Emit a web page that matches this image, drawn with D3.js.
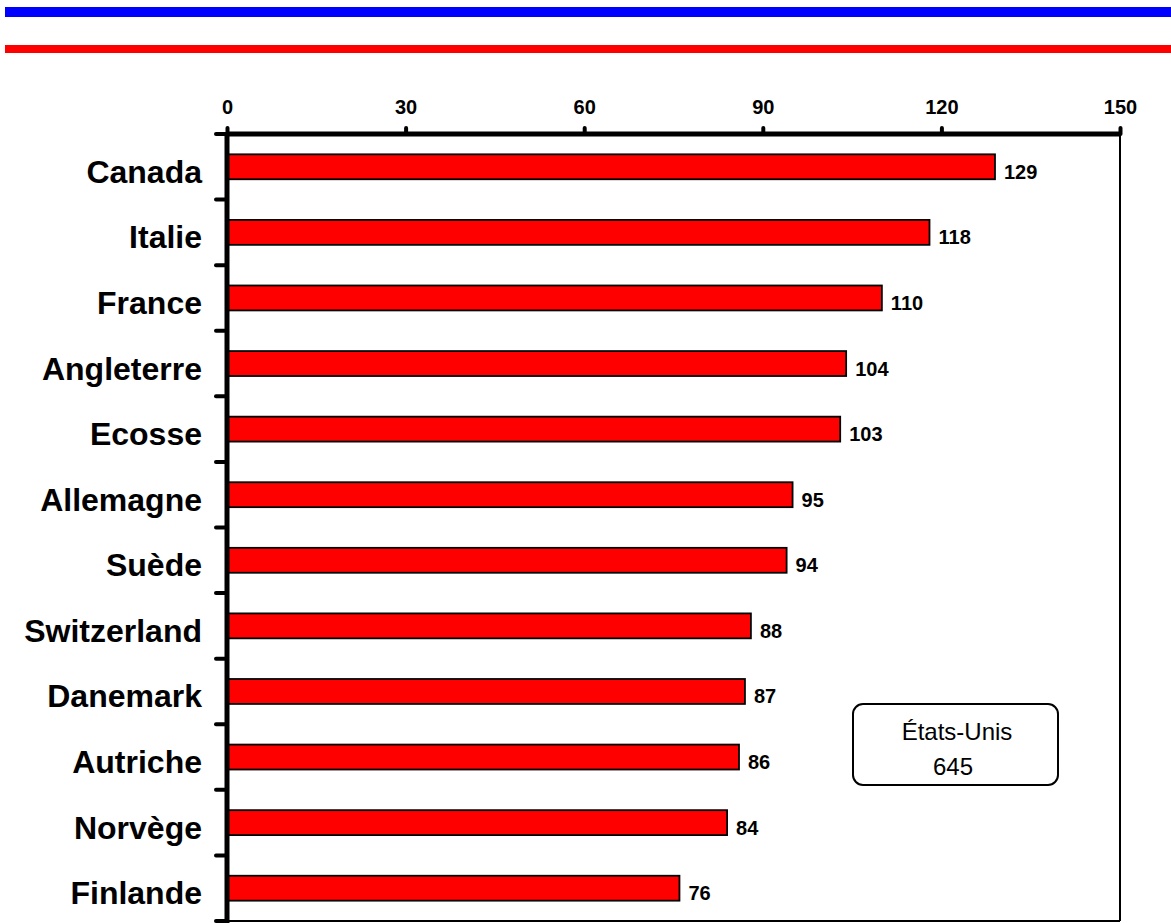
<!DOCTYPE html>
<html><head><meta charset="utf-8">
<script src="https://cdn.jsdelivr.net/npm/d3@7"></script>
<style>body{margin:0;background:#fff;} svg{display:block;}</style>
</head><body>
<script>
const categories = ["Canada","Italie","France","Angleterre","Ecosse","Allemagne","Suède","Switzerland","Danemark","Autriche","Norvège","Finlande"];
const values = [129,118,110,104,103,95,94,88,87,86,84,76];
const tickValues = [0,30,60,90,120,150];
const noteLines = ["États-Unis","645"];

const W=1171,H=923;
const svg=d3.select("body").append("svg").attr("width",W).attr("height",H);
const font="Liberation Sans, Arial, sans-serif";

svg.append("rect").attr("x",5).attr("y",7).attr("width",W-5).attr("height",10).attr("fill","#0000ff");
svg.append("rect").attr("x",5).attr("y",45).attr("width",W-5).attr("height",8).attr("fill","#ff0000");

const x=d3.scaleLinear().domain([0,150]).range([227,1120]);
const y=d3.scaleBand().domain(categories).range([134,921]).padding(0);
const plotTop=134,plotBottom=921;

// right & bottom border
svg.append("line").attr("x1",x(150)).attr("x2",x(150)).attr("y1",plotTop).attr("y2",plotBottom).attr("stroke","#000").attr("stroke-width",2);
svg.append("line").attr("x1",x(0)).attr("x2",x(150)).attr("y1",plotBottom).attr("y2",plotBottom).attr("stroke","#000").attr("stroke-width",2);

// bars
const bh=y.bandwidth()*0.38;
svg.selectAll("rect.bar").data(categories).enter().append("rect")
  .attr("class","bar")
  .attr("x",x(0)).attr("y",(d)=>y(d)+y.bandwidth()/2-bh/2)
  .attr("width",(d,i)=>x(values[i])-x(0)).attr("height",bh)
  .attr("fill","#ff0000").attr("stroke","#000").attr("stroke-width",1.8);

// value labels
svg.selectAll("text.val").data(categories).enter().append("text")
  .attr("class","val")
  .attr("x",(d,i)=>x(values[i])+9).attr("y",d=>y(d)+y.bandwidth()/2+12)
  .attr("font-family",font).attr("font-weight","bold").attr("font-size",20)
  .text((d,i)=>values[i]);

// category labels
svg.selectAll("text.cat").data(categories).enter().append("text")
  .attr("class","cat")
  .attr("x",202).attr("y",d=>y(d)+y.bandwidth()/2+16)
  .attr("text-anchor","end")
  .attr("font-family",font).attr("font-weight","bold").attr("font-size",32)
  .text(d=>d);

// top axis
const xa=d3.axisTop(x).tickValues(tickValues).tickSize(6).tickPadding(14).tickFormat(d3.format("d"));
const gx=svg.append("g").attr("transform",`translate(0,${plotTop})`).call(xa);
gx.select(".domain").attr("stroke","#000").attr("stroke-width",5).attr("d",`M${x(0)},0H${x(150)}`);
gx.selectAll(".tick line").attr("stroke","#000").attr("stroke-width",4).attr("stroke-linecap","round");
gx.selectAll(".tick text").attr("font-family",font).attr("font-weight","bold").attr("font-size",20).attr("fill","#000");

// left axis with ticks at band boundaries
const bounds=categories.map(c=>y(c)).concat([plotBottom]);
svg.append("line").attr("x1",x(0)).attr("x2",x(0)).attr("y1",plotTop).attr("y2",plotBottom+3).attr("stroke","#000").attr("stroke-width",5);
svg.selectAll("line.ltick").data(bounds).enter().append("line")
  .attr("class","ltick")
  .attr("x1",216).attr("x2",x(0)).attr("y1",d=>d).attr("y2",d=>d)
  .attr("stroke","#000").attr("stroke-width",4).attr("stroke-linecap","round");

// note box
svg.append("rect").attr("x",853).attr("y",704).attr("width",205).attr("height",81).attr("rx",10).attr("ry",10)
  .attr("fill","#fff").attr("stroke","#000").attr("stroke-width",2);
svg.append("text").attr("x",957).attr("y",740).attr("text-anchor","middle").attr("font-family",font).attr("font-size",24).text(noteLines[0]);
svg.append("text").attr("x",953).attr("y",775).attr("text-anchor","middle").attr("font-family",font).attr("font-size",24).text(noteLines[1]);
</script>
</body></html>
